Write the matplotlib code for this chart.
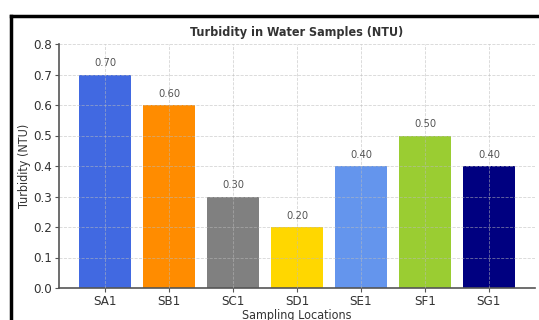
import matplotlib
matplotlib.use("Agg")
import matplotlib.pyplot as plt
from matplotlib.lines import Line2D

plt.rcParams["font.family"] = "DejaVu Sans"
plt.rcParams["font.stretch"] = "condensed"

locations = ["SA1", "SB1", "SC1", "SD1", "SE1", "SF1", "SG1"]
turbidity = [0.70, 0.60, 0.30, 0.20, 0.40, 0.50, 0.40]
bar_colors = ["royalblue", "darkorange", "gray", "gold",
              "cornflowerblue", "yellowgreen", "navy"]

txt = "#333333"
fig = plt.figure(figsize=(5.39, 3.2), dpi=100)
ax = fig.add_axes([59 / 539, 1 - 288 / 320, (535 - 59) / 539, (288 - 44) / 320])

bars = ax.bar(locations, turbidity, color=bar_colors, width=0.8)
for b, v in zip(bars, turbidity):
    ax.text(b.get_x() + b.get_width() / 2, v + 0.02, f"{v:.2f}",
            ha="center", va="bottom", fontsize=8, color="#555555")

ax.set_ylim(0, 0.8)
ax.set_xlim(-0.72, 6.72)
ax.set_yticks([0.0, 0.1, 0.2, 0.3, 0.4, 0.5, 0.6, 0.7, 0.8])
ax.set_axisbelow(False)
ax.grid(True, linestyle="--", linewidth=0.6, color="#bbbbbb", alpha=0.6)
for s in ["top", "right"]:
    ax.spines[s].set_visible(False)
for s in ["left", "bottom"]:
    ax.spines[s].set_color("#555555")
    ax.spines[s].set_linewidth(1.2)
ax.tick_params(colors="#555555", labelcolor=txt, labelsize=9.5, length=3)
ax.tick_params(axis="x", pad=2)
ax.tick_params(axis="y", pad=2)

ax.set_title("Turbidity in Water Samples (NTU)", fontsize=9, fontweight="bold",
             color=txt, pad=6)
ax.set_xlabel("Sampling Locations", fontsize=9, color=txt, labelpad=1)
ax.set_ylabel("Turbidity (NTU)", fontsize=9, color=txt)
ax.yaxis.set_label_coords(-0.058, 0.5)

# outer frame around the figure (left and top edges)
fx = 11 / 539
fy = 1 - 16 / 320
fig.add_artist(Line2D([fx, fx], [0, fy], transform=fig.transFigure,
                      color="black", linewidth=2.5))
fig.add_artist(Line2D([fx, 1], [fy, fy], transform=fig.transFigure,
                      color="black", linewidth=2.5))

fig.savefig("out.png", dpi=100)
